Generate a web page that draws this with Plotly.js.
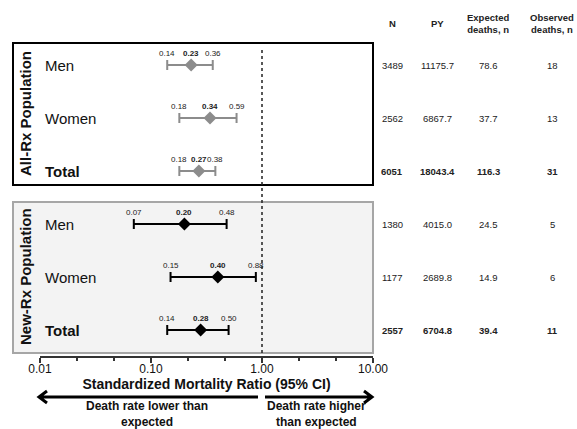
<!DOCTYPE html>
<html>
<head>
<meta charset="utf-8">
<script src="https://cdn.plot.ly/plotly-3.0.1.min.js"></script>
<style>html,body{margin:0;padding:0;background:#fff;}#chart{width:577px;height:429px;}</style>
</head>
<body>
<div id="chart"></div>
<script>
// ---- data ----
const rowLabels = ['Men', 'Women', 'Total', 'Men', 'Women', 'Total'];
const groupNames = ['All-Rx Population', 'New-Rx Population'];
const smr   = [0.23, 0.34, 0.27, 0.20, 0.40, 0.28];
const ciLow = [0.14, 0.18, 0.18, 0.07, 0.15, 0.14];
const ciHigh= [0.36, 0.59, 0.38, 0.48, 0.88, 0.50];
const colN   = ['3489', '2562', '6051', '1380', '1177', '2557'];
const colPY  = ['11175.7', '6867.7', '18043.4', '4015.0', '2689.8', '6704.8'];
const colExp = ['78.6', '37.7', '116.3', '24.5', '14.9', '39.4'];
const colObs = ['18', '13', '31', '5', '6', '11'];
const headers = ['N', 'PY', 'Expected<br>deaths, n', 'Observed<br>deaths, n'];
const tickVals = [0.01, 0.1, 1, 10];
const tickText = ['0.01', '0.10', '1.00', '10.00'];
const minorTicks = [-2, -1, 0].flatMap(d => [Math.pow(10, d + 1/3), Math.pow(10, d + 2/3)]);
const refLine = 1;

// ---- layout helpers (pixel -> paper) ----
const W = 577, H = 429;
const L = 40, R = 373, T = 0, B = 356;
const px = x => (x - L) / (R - L);
const py = y => 1 - (y - T) / (B - T);
const rowTop = 65, rowStep = 53;
const yRange = [(B - rowTop) / rowStep, (T - rowTop) / rowStep];
const FONT = 'Liberation Sans, Arial, sans-serif';
const isTotal = rowLabels.map(r => r === 'Total');
const groupOf = [0, 0, 0, 1, 1, 1];
const colors = ['#8c8c8c', '#000000'];

const traces = [];
[0, 1].forEach(g => {
  const idx = smr.map((_, i) => i).filter(i => groupOf[i] === g);
  traces.push({
    type: 'scatter', mode: 'markers',
    x: idx.map(i => smr[i]), y: idx,
    marker: {symbol: 'diamond', size: 10, color: colors[g]},
    error_x: {type: 'data', symmetric: false,
      array: idx.map(i => ciHigh[i] - smr[i]),
      arrayminus: idx.map(i => smr[i] - ciLow[i]),
      color: colors[g], thickness: 2, width: 5},
    showlegend: false, hoverinfo: 'skip', cliponaxis: false
  });
});

const ann = [];
const cols = [colN, colPY, colExp, colObs];
const colX = [392, 437, 488, 552];
smr.forEach((v, i) => {
  // value labels above CI bars
  [[ciLow[i], false], [v, true], [ciHigh[i], false]].forEach(([val, bold]) => {
    ann.push({x: Math.log10(val), y: i, xref: 'x', yref: 'y', yshift: 12,
      xanchor: 'center', yanchor: 'middle',
      text: bold ? '<b>' + val.toFixed(2) + '</b>' : val.toFixed(2),
      showarrow: false, font: {family: FONT, size: 8, color: '#222'}});
  });
  // row labels
  ann.push({x: px(43), y: i, xref: 'paper', yref: 'y', xanchor: 'left', yanchor: 'middle',
    text: isTotal[i] ? '<b>' + rowLabels[i] + '</b>' : rowLabels[i],
    showarrow: false, font: {family: FONT, size: 15, color: '#111'}});
  // table columns
  cols.forEach((c, k) => {
    ann.push({x: px(colX[k]), y: i, xref: 'paper', yref: 'y', xanchor: 'center', yanchor: 'middle',
      text: isTotal[i] ? '<b>' + c[i] + '</b>' : c[i],
      showarrow: false, font: {family: FONT, size: 9.5, color: '#222'}});
  });
});
// table headers
colX.forEach((x, k) => {
  ann.push({x: px(x), y: py(24), xref: 'paper', yref: 'paper', xanchor: 'center', yanchor: 'middle',
    text: '<b>' + headers[k] + '</b>', showarrow: false,
    font: {family: FONT, size: 9.5, color: '#222'}});
});
// group labels
[[25, 114], [25, 277]].forEach(([x, y], g) => {
  ann.push({x: px(x), y: py(y), xref: 'paper', yref: 'paper', textangle: -90,
    xanchor: 'center', yanchor: 'middle',
    text: '<b>' + groupNames[g] + '</b>', showarrow: false,
    font: {family: FONT, size: 15, color: '#111'}});
});
// arrow captions
ann.push({x: px(147), y: py(414), xref: 'paper', yref: 'paper', xanchor: 'center', yanchor: 'middle',
  text: '<b>Death rate lower than<br>expected</b>', showarrow: false,
  font: {family: FONT, size: 12, color: '#111'}});
ann.push({x: px(316), y: py(414), xref: 'paper', yref: 'paper', xanchor: 'center', yanchor: 'middle',
  text: '<b>Death rate higher<br>than expected</b>', showarrow: false,
  font: {family: FONT, size: 12, color: '#111'}});

const refX = (Math.log10(refLine) + 2) / 3;
const shapes = [
  {type: 'rect', xref: 'paper', yref: 'paper', x0: px(13), x1: px(373), y0: py(43), y1: py(185),
    line: {color: '#000', width: 2}, fillcolor: 'rgba(0,0,0,0)', layer: 'below'},
  {type: 'rect', xref: 'paper', yref: 'paper', x0: px(13), x1: px(373), y0: py(202), y1: py(353),
    line: {color: '#a6a6a6', width: 2}, fillcolor: '#f3f3f3', layer: 'below'},
  {type: 'line', xref: 'paper', yref: 'paper', x0: refX, x1: refX, y0: py(50), y1: py(356),
    line: {color: '#222', width: 1.5, dash: 'dot'}},
  // left arrow
  {type: 'path', xref: 'paper', yref: 'paper',
    path: `M${px(258)},${py(397)} L${px(39)},${py(397)} M${px(47)},${py(391)} L${px(39)},${py(397)} L${px(47)},${py(403)}`,
    line: {color: '#000', width: 3}},
  // right arrow
  {type: 'path', xref: 'paper', yref: 'paper',
    path: `M${px(265)},${py(397)} L${px(372)},${py(397)} M${px(364)},${py(391)} L${px(372)},${py(397)} L${px(364)},${py(403)}`,
    line: {color: '#000', width: 3}}
];

const layout = {
  width: W, height: H,
  margin: {l: L, r: W - R, t: T, b: H - B, pad: 0},
  paper_bgcolor: '#fff', plot_bgcolor: 'rgba(0,0,0,0)',
  showlegend: false, hovermode: false,
  font: {family: FONT, color: '#111'},
  xaxis: {type: 'log', range: [-2, 1], tickmode: 'array', tickvals: tickVals, ticktext: tickText,
    ticks: 'outside', ticklen: 5, tickwidth: 1.5, tickcolor: '#333', ticklabelstandoff: -4,
    minor: {tickmode: 'array', tickvals: minorTicks, ticks: 'outside', ticklen: 3, tickwidth: 1.5, tickcolor: '#333', showgrid: false},
    showline: true, linecolor: '#333', linewidth: 1.5, showgrid: false, zeroline: false,
    tickfont: {family: FONT, size: 12, color: '#111'},
    title: {text: '<b>Standardized Mortality Ratio (95% CI)</b>', font: {family: FONT, size: 14, color: '#111'}, standoff: 3},
    fixedrange: true},
  yaxis: {range: yRange, visible: false, fixedrange: true},
  annotations: ann, shapes: shapes
};

Plotly.newPlot('chart', traces, layout, {displayModeBar: false, staticPlot: true});
</script>
</body>
</html>
